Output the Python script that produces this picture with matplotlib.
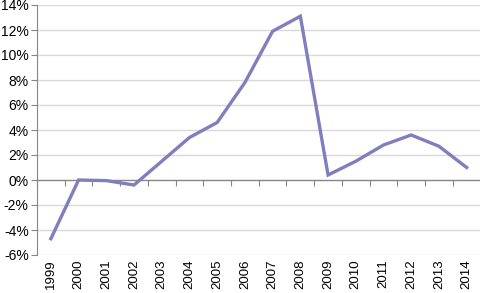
import numpy as np
from matplotlib import pyplot as plt
from matplotlib.ticker import FuncFormatter

years = list(range(1999, 2015))
growth = [-4.7, 0.0, -0.05, -0.4, 1.5, 3.4, 4.6, 7.8, 11.9, 13.1,
          0.4, 1.5, 2.8, 3.6, 2.7, 1.0]
y_ticks = list(range(-6, 15, 2))

plt.rcParams['font.family'] = ['Liberation Sans', 'DejaVu Sans']

fig = plt.figure(figsize=(4.81, 2.93), dpi=100)
ax = fig.add_axes([37 / 481, 38 / 293, 1 - 37 / 481 - 0.001, 250 / 293])

x = np.arange(len(years))
ax.plot(x, growth, color='#7f7fbd', linewidth=2.4, solid_joinstyle='miter', zorder=3)

ymin, ymax = -6, 14
ax.set_ylim(ymin, ymax)
ax.set_xlim(-0.5, len(years) - 0.5)
ax.set_yticks(y_ticks)
ax.yaxis.set_major_formatter(FuncFormatter(lambda v, p: '%d%%' % v))
ax.set_xticks(x)
ax.set_xticklabels([str(y) for y in years], rotation=90)

for v in y_ticks:
    if v != 0:
        ax.axhline(v, color='#d9d9d9', linewidth=1, zorder=1)
ax.axhline(0, color='#868686', linewidth=1, zorder=2)

for s in ['top', 'right', 'bottom']:
    ax.spines[s].set_visible(False)
ax.spines['left'].set_color('#868686')
ax.tick_params(axis='y', length=4, color='#868686', labelsize=10, pad=2)
ax.tick_params(axis='x', length=0, labelsize=9.5, pad=3)

# zero axis with ticks between categories
sec = ax.secondary_xaxis((0 - ymin) / (ymax - ymin))
sec.set_xticks(np.arange(len(years) + 1) - 0.5)
sec.set_xticklabels([])
sec.spines['bottom'].set_visible(False)
sec.tick_params(axis='x', direction='out', length=4, color='#868686')

fig.savefig('out.png', dpi=100)
